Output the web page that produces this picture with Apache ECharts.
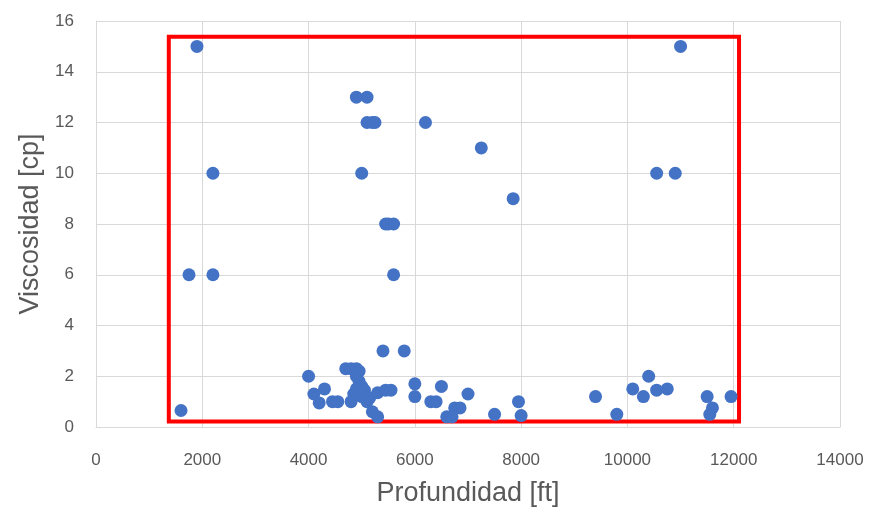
<!DOCTYPE html>
<html>
<head>
<meta charset="utf-8">
<script src="https://cdn.jsdelivr.net/npm/echarts@6/dist/echarts.min.js"></script>
<style>
  html, body { margin: 0; padding: 0; background: #fff; }
  #chart { width: 875px; height: 512px; }
</style>
</head>
<body>
<div id="chart"></div>
<script>
// profundidad [ft]
const depth = [
    1900, 2200, 1750, 2200, 1600, 11000,
    4900, 5100, 5100, 5200, 5250, 6200, 7250, 7850, 5000,
    5450, 5500, 5600, 5600, 10550, 10900,
    5400, 5800,
    4000, 4100, 4300, 4200, 4450, 4550,
    4700, 4800, 4900, 4950, 4900, 4950, 5000, 4900, 4850, 5000, 4800, 5100,
    5050, 5150, 5200, 5300, 5300, 5450, 5550,
    6000, 6000, 6300, 6400, 6500, 7000, 6750, 6850, 6600, 6700, 7500, 7950, 8000,
    9400, 9800, 10100, 10400, 10300, 10550, 10750,
    11500, 11600, 11550, 11950
];
// viscosidad [cp]
const visc = [
    15, 10, 6, 6, 0.65, 15,
    13, 13, 12, 12, 12, 12, 11, 9, 10,
    8, 8, 8, 6, 10, 10,
    3, 3,
    2.0, 1.3, 1.5, 0.95, 1.0, 1.0,
    2.3, 2.3, 2.3, 2.2, 2.0, 1.8, 1.6, 1.5, 1.3, 1.2, 1.0, 1.0,
    1.45, 1.15, 0.6, 0.4, 1.35, 1.45, 1.45,
    1.7, 1.2, 1.0, 1.0, 1.6, 1.3, 0.75, 0.75, 0.4, 0.4, 0.5, 1.0, 0.45,
    1.2, 0.5, 1.5, 2.0, 1.2, 1.45, 1.5,
    1.2, 0.75, 0.5, 1.2
];

// recuadro rojo
const boxX = [1370, 12100];
const boxY = [0.22, 15.38];

const xTicks = [0, 14000, 2000];
const yTicks = [0, 16, 2];

const chart = echarts.init(document.getElementById('chart'));

const grey = '#595959';
const gridGrey = '#d9d9d9';

chart.setOption({
    animation: false,
    grid: { left: 96, right: 35, top: 21, bottom: 82 },
    xAxis: {
        type: 'value',
        min: xTicks[0], max: xTicks[1], interval: xTicks[2],
        name: 'Profundidad [ft]',
        nameLocation: 'middle',
        nameGap: 53,
        nameTextStyle: { color: grey, fontSize: 27, fontFamily: 'Liberation Sans' },
        axisLine: { show: true, lineStyle: { color: gridGrey } },
        axisTick: { show: false },
        axisLabel: {
            color: grey, fontSize: 17, fontFamily: 'Liberation Sans', margin: 25,
            formatter: v => String(v)
        },
        splitLine: { show: true, lineStyle: { color: gridGrey, width: 1 } }
    },
    yAxis: {
        type: 'value',
        min: yTicks[0], max: yTicks[1], interval: yTicks[2],
        name: 'Viscosidad [cp]',
        nameLocation: 'middle',
        nameGap: 52,
        nameTextStyle: { color: grey, fontSize: 27, fontFamily: 'Liberation Sans' },
        axisLine: { show: true, lineStyle: { color: gridGrey } },
        axisTick: { show: false },
        axisLabel: { color: grey, fontSize: 17, fontFamily: 'Liberation Sans', margin: 22 },
        splitLine: { show: true, lineStyle: { color: gridGrey, width: 1 } }
    },
    series: [{
        type: 'scatter',
        symbolSize: 13,
        itemStyle: { color: '#4472C4', opacity: 1 },
        data: depth.map((d, i) => [d, visc[i]]),
        markArea: {
            silent: true,
            itemStyle: { color: 'rgba(0,0,0,0)', borderColor: '#ff0000', borderWidth: 4 },
            data: [[
                { coord: [boxX[0], boxY[0]] },
                { coord: [boxX[1], boxY[1]] }
            ]]
        }
    }]
});
</script>
</body>
</html>
